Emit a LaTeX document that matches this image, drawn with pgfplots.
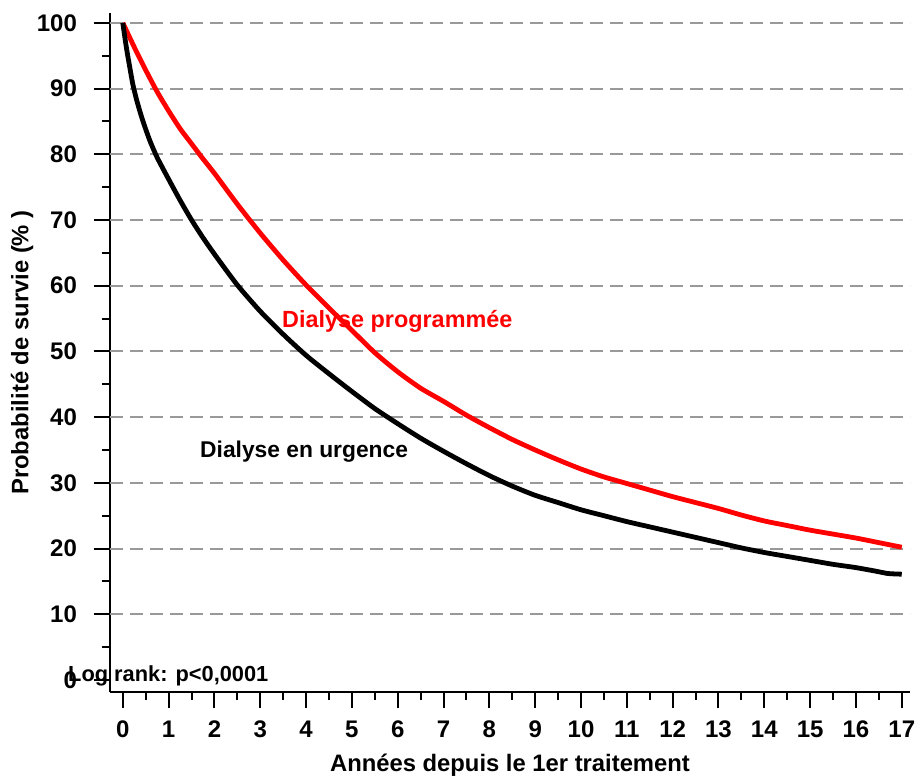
\documentclass[border=0pt]{standalone}
\usepackage{fontspec}
\setmainfont{Liberation Sans}
\usepackage{pgfplots}
\pgfplotsset{compat=1.18}
\begin{document}
\begin{tikzpicture}
\begin{axis}[
  scale only axis,
  width=400pt, height=339.5pt,
  xmin=-0.28, xmax=17.18,
  ymin=-1.83, ymax=101.5,
  axis x line*=bottom, axis y line*=left,
  axis line style={line width=1pt, black},
  xtick={0,1,...,17},
  ytick={0,10,...,100},
  minor x tick num=1, minor y tick num=1,
  tick align=outside,
  major tick length=8pt, minor tick length=4pt,
  every tick/.style={black, line width=1pt},
  /pgf/number format/assume math mode=true,
  ticklabel style={font=\bfseries\fontsize{12}{14}\selectfont},
  xticklabel style={yshift=-2.8pt},
  yticklabel style={xshift=-5pt},
  extra y ticks={10,20,...,100},
  extra y tick labels={},
  extra y tick style={grid=major, major tick length=0pt,
     major grid style={gray!80, dash pattern=on 6.5pt off 3.5pt, line width=1pt}},
  xlabel={Années depuis le 1er traitement},
  ylabel={Probabilité de survie (\% )},
  label style={font=\bfseries\fontsize{11.9}{14}\selectfont},
  xlabel style={at={(axis description cs:0.5,-0.1075)}, anchor=center},
  ylabel style={at={(axis description cs:-0.11,0.5)}, anchor=center},
  clip=false,
]
\coordinate (O) at (rel axis cs:0,0);
\addplot[red, line width=2.4pt, smooth, tension=0.4] coordinates {
(0,100) (0.25,96.3) (0.5,92.8) (0.75,89.5) (1,86.6) (1.25,83.9) (1.5,81.6)
(1.75,79.3) (2,77.1) (2.5,72.4) (3,68.0) (3.5,63.9) (4,60.1) (4.5,56.6)
(5,53.2) (5.5,49.8) (6,46.9) (6.5,44.4) (7,42.4) (7.5,40.3) (8,38.4)
(8.5,36.6) (9,35.0) (9.5,33.5) (10,32.1) (10.5,30.9) (11,29.9) (11.5,28.9)
(12,27.9) (12.5,27.0) (13,26.1) (13.5,25.1) (14,24.2) (14.5,23.5) (15,22.8)
(15.5,22.2) (16,21.6) (16.5,20.9) (17,20.2)
};
\addplot[black, line width=2.4pt, smooth, tension=0.4] coordinates {
(0,100) (0.05,97.5) (0.1,95.3) (0.15,93.3) (0.22,90.6) (0.3,88.3) (0.4,85.9)
(0.5,83.8) (0.6,81.9) (0.75,79.5) (1,76.2)
(1.25,73.0) (1.5,70) (1.75,67.3) (2,64.8) (2.5,60.1) (3,56.1) (3.5,52.6)
(4,49.4) (4.5,46.6) (5,43.9) (5.5,41.3) (6,39.0) (6.5,36.8) (7,34.8)
(7.5,32.9) (8,31.1) (8.5,29.5) (9,28.1) (9.5,27.0) (10,25.9) (10.5,25.0)
(11,24.1) (11.5,23.3) (12,22.5) (12.5,21.7) (13,20.9) (13.5,20.1) (14,19.4)
(14.5,18.8) (15,18.2) (15.5,17.6) (16,17.1) (16.4,16.6) (16.7,16.2) (17,16.1)
};
\node[anchor=west, red, font=\bfseries\fontsize{11.7}{14}\selectfont, inner sep=0pt] at (axis cs:3.47,54.5) {Dialyse programmée};
\node[anchor=west, black, font=\bfseries\fontsize{11.4}{14}\selectfont, inner sep=0pt] at (axis cs:1.68,34.7) {Dialyse en urgence};
\node[anchor=west, black, font=\bfseries\fontsize{10.9}{13}\selectfont, inner sep=0pt] at (axis cs:-1.2,0.6) {Log rank: p<0,0001};
\end{axis}
\pgfresetboundingbox
\path ([shift={(-55pt,-43pt)}]O) rectangle ([shift={(403.5pt,346pt)}]O);
\end{tikzpicture}
\end{document}
